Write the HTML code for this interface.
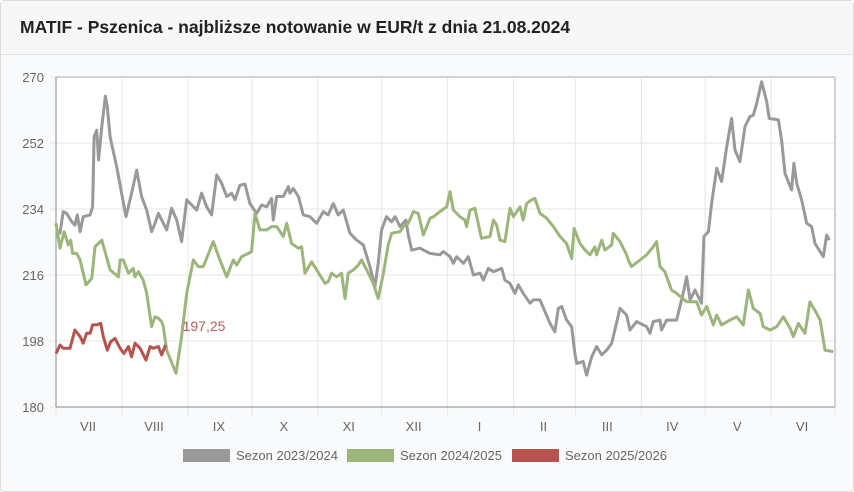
<!DOCTYPE html>
<html><head><meta charset="utf-8">
<style>
body{margin:0;width:854px;height:492px;overflow:hidden;font-family:"Liberation Sans",sans-serif;background:#fff}
.card{position:absolute;left:0;top:0;width:852px;height:490px;border:1px solid #dcdcdc;border-radius:4px;background:#f9fafb}
.hdr{height:54px;border-bottom:1px solid #e2e2e2;background:#f7f7f7;box-sizing:border-box;padding:16px 0 0 19px;font-size:17.5px;font-weight:bold;color:#222}
svg{position:absolute;left:0;top:0}
</style></head><body>
<div class="card">
<div class="hdr">MATIF - Pszenica - najbliższe notowanie w EUR/t z dnia 21.08.2024</div>
</div>
<svg id="c" width="854" height="492"></svg>
<script>
const yTicks=[180,198,216,234,252,270];
const monthLabels=["VII","VIII","IX","X","XI","XII","I","II","III","IV","V","VI"];
const monthStarts=[0,31,62,92,123,153,184,215,244,275,305,336,366];
const seriesNames=["Sezon 2023/2024","Sezon 2024/2025","Sezon 2025/2026"];
const lastLabel="197,25";
const g1Days=[0,1.9,3.4,5,7.4,8.9,10,11.3,12.8,16,17.2,17.9,19.1,20,21.5,23.2,24.1,25.4,28.5,32.9,35.5,37.9,40.2,42.6,44.9,46.5,48.1,52,54.3,56.7,59,61.4,66.1,68.4,70.8,73.1,75.5,77.8,80.2,82.5,84.1,86.4,88.8,91.1,94.3,96.6,99,101.3,102.1,103.7,106.8,109.2,109.9,111.5,113.9,116.2,119.3,122.5,125.6,127.9,130.3,132.6,135,138.1,141.3,144.4,147.5,149.9,151.4,153,155.3,157.7,159.3,161.6,164.4,165.5,167.1,171,175.7,180.4,182,185.1,186.7,188.2,191.4,193.7,196.1,199.2,200.8,203.1,205.5,209.4,210.9,213.3,215.6,217.2,219.5,222.7,224.3,227.4,232.1,234.4,236,237.6,239.9,242.3,243.8,244.6,247.7,249.3,251.7,254,256.4,258.7,261.1,265,268.1,269.7,272.8,277.5,279.1,280.6,283.8,284.5,286.9,291.6,294.7,296.3,297.9,300.2,303.3,304.4,306.5,308,310.4,312.7,315.1,317.4,319,321.3,323.7,326,327.6,329.2,331.5,333.9,335.1,339.4,340.9,342.5,345.6,346.7,348,350.3,352.7,355,356.6,360.5,362.1,363.3];
const g1Vals=[227.4,227.4,233.3,232.8,230.5,229.6,232.4,227.8,231.9,232.4,234.6,253.7,255.5,247.4,256.5,264.8,261.9,253.7,245.5,231.9,238.3,244.6,237.4,233.7,227.8,230.1,232.8,228.3,234.2,231,225.1,236.5,233.7,238.3,234.6,232.4,243.3,241,237.4,238.3,236.5,240.5,240.8,235.5,232.8,235.1,234.6,236.9,231,237.4,237.4,240.1,238.3,239.6,237.4,232.4,231.9,230.1,233.3,232.4,235.5,232.4,233.7,227.4,225.5,224.2,218.3,212.8,219.2,228.3,231.9,230.5,231.9,229.2,231,226.9,222.8,223.3,221.9,221.5,222.4,221,219.2,221,219.2,221,216,216.5,214.6,217.8,216.9,217.8,214.6,213.7,211,213.3,211,208.3,209.2,209.2,202.8,200.5,206.9,207.4,203.7,201.9,194.6,191.9,192.4,188.7,193.7,196.5,194.2,195.5,197.4,206.9,205.1,201,203.3,201.9,200.1,203.3,203.7,201,203.7,203.7,211,215.5,209.2,211.9,208.3,226.5,227.8,235.5,245.1,241.5,251,258.7,250.1,246.9,256.5,259.2,259.6,262.8,268.7,263.3,258.7,258.3,252.8,243.7,239.2,246.5,241,236.5,230.1,229.2,224.6,221,226.9,225.5];
const g2Days=[0,1.9,3.8,5.8,6.9,7.8,9.7,11.3,14.1,16.8,18.3,21.5,23,25.4,29.3,30.1,31.6,34,36.3,37.1,38.7,41,42.6,44.9,46.5,48.1,49.6,50.4,52,56.4,59,61.4,64.5,66.9,69.2,72.3,73.9,77,80.2,83.3,84.9,87.2,90.4,91.9,93.5,95.8,99,101.3,103.7,106.8,108.4,110.7,113.9,115.4,117,120.1,122.5,126.4,127.9,129.5,131.9,134.2,135.8,137.3,139.7,142,143.6,146,149.1,151.4,153.8,156.1,157.7,161.6,163.2,165.5,167.9,170.2,172.6,175.7,177.3,180.4,183.5,185.1,186.7,189.8,192.1,192.9,194.5,196.8,199.9,203.9,205.5,207,208.6,210.9,213.3,214.9,218,219.5,221.1,223.5,225,227.4,230.5,233.7,236.8,239.9,242.3,243.4,246.2,248.6,250.9,253.2,254,256.4,257.9,261.1,261.8,265,268.1,268.9,270.4,274.4,277.5,280.6,282.2,283.8,286.1,289.2,291.6,296.3,301,303.3,305.7,308.8,310.4,312.7,316.6,319.8,322.9,325.3,327.6,330.8,332.3,335.5,338.6,341.7,344.9,346.4,348.8,351.9,354.2,357.4,359,361.3,365.2];
const g2Vals=[230.1,223.3,227.8,224.2,225.5,221.9,221.9,220.1,213.3,215.1,223.7,225.5,222.4,217.4,215.5,220.1,220.1,216.5,217.8,215.5,216.9,214.6,211,201.9,204.6,204.2,203.3,201.9,195.5,189.2,199.2,211,220.1,218.3,218.3,222.8,225.1,220.1,215.5,220.1,218.7,221,221.9,222.4,232.8,228.3,228.3,229.2,229.2,226.5,230.1,224.6,223.3,223.7,216.5,219.6,217.4,213.7,214.2,216.5,215.5,216.5,209.6,216.5,217.4,218.7,220.1,217.4,213.7,209.6,216.5,224.2,227.4,227.8,229.2,230.1,233.3,232.8,226.9,231.5,231.9,233.3,234.6,238.7,233.7,231.9,231,229.2,233.7,234.2,226,226.5,231,229.6,225.5,225.1,234.2,231.9,234.6,231,235.5,236.5,236.9,232.8,231.5,229.2,226.5,224.6,220.5,228.7,224.6,222.8,221.5,223.7,221.5,225.5,222.8,224.2,227.4,225.1,221.5,220.1,218.3,220.1,221.5,223.7,225.1,218.3,216.9,211.9,211,208.7,208.7,205.1,207.4,202.4,205.1,202.4,203.7,204.6,202.4,211.9,206.9,205.5,201.9,201,201.9,204.6,201.5,199.2,202.8,200.1,208.7,205.5,203.7,195.5,195.1];
const g3Days=[0,1.9,3.4,6.6,8.9,11.3,12.8,14.4,16,17.2,19.1,21,22.2,24.1,25.7,27.7,30.1,31.9,34,35.5,37.1,39.5,42.3,44.2,45.7,48.1,49.6,51.5];
const g3Vals=[194.6,196.9,196,196,201,199.2,197.4,200.1,200.1,202.4,202.4,202.8,199.2,195.5,197.8,198.7,196,194.6,196.5,193.7,197.4,196,192.8,196.5,196,196.5,194.2,196.9];

const X0=56,X1=835,Y0=407,Y1=77;
const xs=d=>X0+(X1-X0)*d/366;
const ys=v=>Y0-(Y0-Y1)*(v-180)/90;
const svg=document.getElementById('c');
const NS='http://www.w3.org/2000/svg';
function mk(t,a,p){const e=document.createElementNS(NS,t);for(const k in a)e.setAttribute(k,a[k]);(p||svg).appendChild(e);return e;}
mk('rect',{x:X0,y:Y1,width:X1-X0,height:Y0-Y1,fill:'#fff'});
yTicks.forEach(v=>{
  const l=mk('line',{x1:X0-6,x2:X1,y1:ys(v),y2:ys(v),stroke:'#e6e6e6','stroke-width':1});
  
  
  const t=mk('text',{x:44,y:ys(v)+5,'text-anchor':'end','font-size':13,fill:'#666'});
  t.textContent=v;
  
  
});
monthStarts.forEach(d=>{
  const l=mk('line',{x1:xs(d),x2:xs(d),y1:Y1,y2:Y0+8,stroke:'#e6e6e6','stroke-width':1});
  
  
});
monthLabels.forEach((m,i)=>{
  const t=mk('text',{x:(xs(monthStarts[i])+xs(monthStarts[i+1]))/2-1,y:431,'text-anchor':'middle','font-size':13,fill:'#666'});
  t.textContent=m;
  
  
});
mk('line',{x1:X0,x2:X0,y1:Y1,y2:Y0,stroke:'#888'});
mk('line',{x1:X0,x2:X1,y1:Y0,y2:Y0,stroke:'#888'});
mk('line',{x1:X1,x2:X1,y1:Y1,y2:Y0,stroke:'#aaa'});
mk('line',{x1:X0,x2:X1,y1:Y1,y2:Y1,stroke:'#aaa'});
const colors=['#999999','#9bb57b','#b5544d'];
const series=[[g1Days,g1Vals],[g2Days,g2Vals],[g3Days,g3Vals]];
series.forEach((s,i)=>{
  const p=s[0].map((d,j)=>xs(d).toFixed(1)+','+ys(s[1][j]).toFixed(1)).join(' ');
  const pl=mk('polyline',{points:p,fill:'none',stroke:colors[i],'stroke-width':3,'stroke-linejoin':'round'});
  
  
});
const ld=g3Days.length-1;
const lt=mk('text',{x:xs(g3Days[ld])+17,y:ys(g3Vals[ld])-14,'font-size':14,fill:'#b5605a'});
lt.textContent=lastLabel;


const lx=[183,347,512];
seriesNames.forEach((n,i)=>{
  const g=mk('g',{});
  
  
  mk('rect',{x:lx[i],y:449,width:47,height:13,fill:colors[i]},g);
  const t=mk('text',{x:lx[i]+53,y:460,'font-size':13,fill:'#666'},g);
  t.textContent=n;
});
</script>
</body></html>
